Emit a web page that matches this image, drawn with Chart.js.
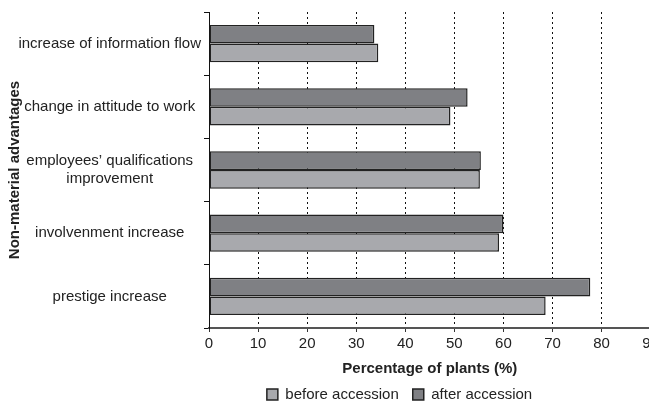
<!DOCTYPE html>
<html>
<head>
<meta charset="utf-8">
<script src="https://cdn.jsdelivr.net/npm/chart.js@4/dist/chart.umd.min.js"></script>
<style>
  html, body { margin: 0; padding: 0; background: #fff; overflow: hidden; }
  #wrap { position: relative; width: 662px; height: 417px; }
</style>
</head>
<body>
<div id="wrap"><canvas id="chart"></canvas></div>
<script>
// Non-material advantages of accession, share of plants (%)
const categories = [
  'increase of information flow',
  'change in attitude to work',
  ['employees\u2019 qualifications', 'improvement'],
  'involvenment increase',
  'prestige increase'
];
const afterAccession  = [33.7, 52.7, 55.4, 60.0, 77.7];
const beforeAccession = [34.5, 49.2, 55.2, 59.1, 68.6];
const xTicks = [0, 10, 20, 30, 40, 50, 60, 70, 80, 90];

const FONT = 'Liberation Sans, Arial, sans-serif';
const INK = '#222';

// Legend sits under the plot area rather than the full canvas
const legendShift = {
  id: 'legendShift',
  afterLayout(chart) {
    const lg = chart.legend;
    if (!lg) return;
    lg.left += 137;
    lg.top -= 5;
    lg.bottom -= 5;
  }
};

new Chart(document.getElementById('chart'), {
  type: 'bar',
  data: {
    labels: categories,
    datasets: [
      {
        label: 'after accession',
        data: afterAccession,
        backgroundColor: '#7f8084',
        borderColor: '#222',
        borderWidth: 1.5,
        borderSkipped: false,
        categoryPercentage: 0.59,
        barPercentage: 1.0
      },
      {
        label: 'before accession',
        data: beforeAccession,
        backgroundColor: '#a8a9ad',
        borderColor: '#222',
        borderWidth: 1.5,
        borderSkipped: false,
        categoryPercentage: 0.59,
        barPercentage: 1.0
      }
    ]
  },
  plugins: [legendShift],
  options: {
    indexAxis: 'y',
    responsive: true,
    maintainAspectRatio: false,
    animation: false,
    layout: { padding: { top: 10, left: 0, right: 0, bottom: 0 } },
    plugins: {
      tooltip: { enabled: false },
      legend: {
        position: 'bottom',
        reverse: true,
        labels: {
          boxWidth: 11,
          boxHeight: 11,
          padding: 14,
          color: INK,
          font: { family: FONT, size: 15 }
        }
      }
    },
    scales: {
      x: {
        min: 0,
        max: 90,
        afterBuildTicks: (scale) => { scale.ticks = xTicks.map(v => ({ value: v })); },
        ticks: {
          color: INK,
          padding: 3,
          font: { family: FONT, size: 15 }
        },
        grid: {
          color: (c) => (c.tick && c.tick.value === 0) ? 'rgba(0,0,0,0)' : '#111',
          lineWidth: 1,
          tickLength: 4,
          tickColor: '#333',
          tickWidth: 1
        },
        border: { color: '#555', width: 2, dash: [2, 3] },
        title: {
          display: true,
          text: 'Percentage of plants (%)',
          color: INK,
          font: { family: FONT, size: 15, weight: 'bold' },
          padding: { top: 4, bottom: 0 }
        }
      },
      y: {
        afterFit: (scale) => { scale.width = 209; },
        ticks: {
          crossAlign: 'center',
          padding: 3,
          color: INK,
          font: { family: FONT, size: 15 }
        },
        grid: {
          offset: true,
          drawOnChartArea: false,
          tickLength: 5,
          color: '#111',
          tickColor: '#111'
        },
        border: { color: '#111', width: 1 },
        title: {
          display: true,
          text: 'Non-material advantages',
          color: INK,
          font: { family: FONT, size: 15, weight: 'bold' },
          padding: { top: 6, bottom: 0 }
        }
      }
    }
  }
});
</script>
</body>
</html>
